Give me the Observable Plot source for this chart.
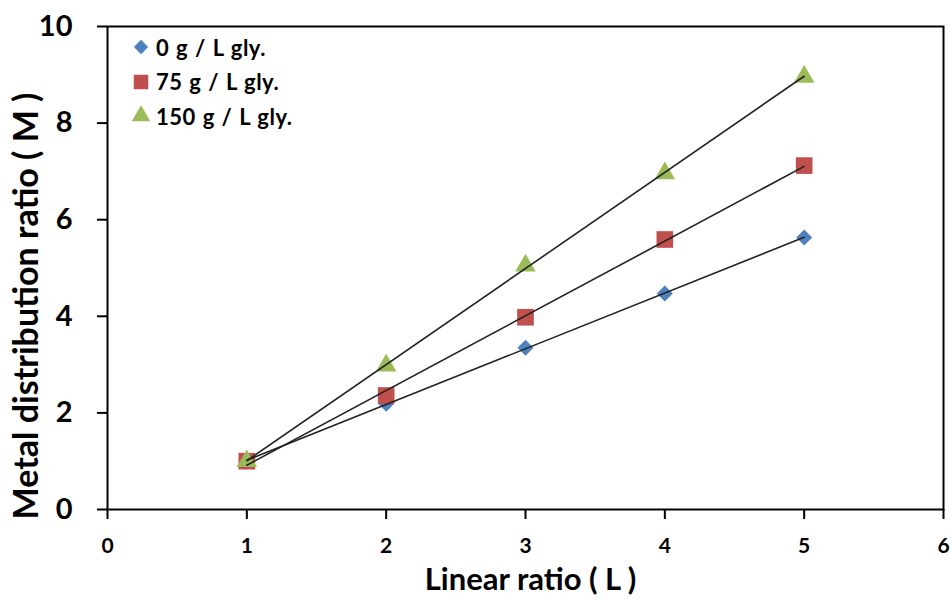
<!DOCTYPE html>
<html>
<head>
<meta charset="utf-8">
<script src="https://cdn.jsdelivr.net/npm/d3@7"></script>
<script src="https://cdn.jsdelivr.net/npm/@observablehq/plot@0.6"></script>
<style>
  html, body { margin: 0; padding: 0; background: #fff; }
  #wrap { position: relative; width: 951px; height: 604px; font-family: Lato, "Open Sans", sans-serif; }
  #legend { position: absolute; left: 130px; top: 30px; font-weight: bold; font-size: 22px; letter-spacing: 0.5px; word-spacing: 1px; color: #000; }
  #legend .row { display: flex; align-items: center; height: 34.5px; }
  #legend svg { margin-right: 4px; }
</style>
</head>
<body>
<div id="wrap"><div id="legend"></div></div>
<script>
const xValues = [1, 2, 3, 4, 5];
const series = ["0 g / L gly.", "75 g / L gly.", "150 g / L gly."];
const gly0 = [1.0, 2.19, 3.35, 4.47, 5.63];
const gly75 = [1.0, 2.36, 3.98, 5.59, 7.12];
const gly150 = [1.0, 2.98, 5.05, 6.96, 8.96];
const colors = ["#4F81BD", "#C0504D", "#9BBB59"];
const symbols = ["diamond2", "square", "triangle"];
const radii = [7.2, 9.4, 7.6];
const xTicks = [0, 1, 2, 3, 4, 5, 6];
const yTicks = [0, 2, 4, 6, 8, 10];

const allY = [gly0, gly75, gly150];
const data = [];
series.forEach((s, i) => xValues.forEach((x, j) => data.push({series: s, idx: i, x, y: allY[i][j]})));

const font = "Lato, 'Open Sans', sans-serif";
const marks = [
  Plot.frame({stroke: "#000", strokeWidth: 2}),
];
series.forEach((s, i) => {
  marks.push(Plot.dot(data.filter(d => d.idx === i), {x: "x", y: "y", symbol: () => symbols[i], fill: colors[i], r: radii[i], stroke: "none"}));
});
series.forEach((s, i) => {
  marks.push(Plot.linearRegressionY(data.filter(d => d.idx === i), {x: "x", y: "y", ci: 0, stroke: "#222", strokeWidth: 1.6}));
});
marks.push(
  Plot.axisY({ticks: yTicks, tickSize: 10, tickPadding: 25, fontSize: 29, fontWeight: "bold", label: null, strokeWidth: 2}),
  Plot.axisX({ticks: xTicks, tickFormat: "d", tickSize: 10, tickPadding: 19, fontSize: 21, fontWeight: "bold", label: null, strokeWidth: 2}),
  Plot.text(["Metal distribution ratio ( M )"], {frameAnchor: "left", textAnchor: "middle", dx: -80, dy: 38, rotate: -90, fontSize: 34, fontWeight: "bold", fill: "#000"}),
  Plot.text(["Linear ratio ( L )"], {frameAnchor: "bottom", dx: 5, dy: 80, fontSize: 31, fontWeight: "bold", fill: "#000"})
);

const chart = Plot.plot({
  width: 951,
  height: 604,
  marginLeft: 107,
  marginRight: 8,
  marginTop: 26,
  marginBottom: 95,
  style: {fontFamily: font, color: "#000", background: "#fff", overflow: "visible"},
  x: {domain: [0, 6]},
  y: {domain: [0, 10]},
  marks
});
document.getElementById("wrap").prepend(chart);

const legend = document.getElementById("legend");
series.forEach((s, i) => {
  const row = document.createElement("div");
  row.className = "row";
  const sym = d3.symbol(i === 0 ? d3.symbolDiamond2 : i === 1 ? d3.symbolSquare : d3.symbolTriangle, i === 0 ? 130 : i === 1 ? 210 : 150)();
  row.innerHTML = `<svg width="22" height="22" viewBox="-11 -11 22 22"><path d="${sym}" fill="${colors[i]}"/></svg><span>${s}</span>`;
  legend.appendChild(row);
});
</script>
</body>
</html>
